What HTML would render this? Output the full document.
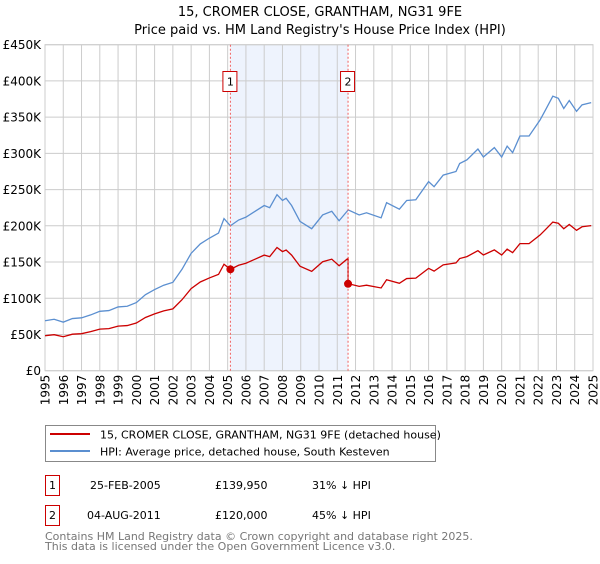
<!DOCTYPE html>
<html><head><meta charset="utf-8"><style>
body{margin:0;background:#fff;font-family:"DejaVu Sans","Liberation Sans",sans-serif;}
svg text{font-family:"DejaVu Sans","Liberation Sans",sans-serif;}
</style></head><body>
<svg id="chart" width="600" height="560" xmlns="http://www.w3.org/2000/svg">
<text x="320" y="16" text-anchor="middle" font-size="13" fill="#000">15, CROMER CLOSE, GRANTHAM, NG31 9FE</text>
<text x="320" y="34" text-anchor="middle" font-size="13" fill="#000">Price paid vs. HM Land Registry's House Price Index (HPI)</text>
<g id="plot"></g>
<g>
<rect x="45.5" y="425.5" width="390" height="36" fill="#fff" stroke="#888"/>
<line x1="50" y1="434" x2="90" y2="434" stroke="#cc0000" stroke-width="2"/>
<text x="100" y="438.5" font-size="11">15, CROMER CLOSE, GRANTHAM, NG31 9FE (detached house)</text>
<line x1="50" y1="451" x2="90" y2="451" stroke="#5b8fd0" stroke-width="2"/>
<text x="100" y="455.5" font-size="11">HPI: Average price, detached house, South Kesteven</text>
</g>
<g font-size="11">
<rect x="45.5" y="475.5" width="14" height="20" fill="#fff" stroke="#cc0000"/>
<text x="52.5" y="489" text-anchor="middle">1</text>
<text x="90" y="489">25-FEB-2005</text><text x="215" y="489">£139,950</text><text x="312" y="489">31% ↓ HPI</text>
<rect x="45.5" y="505.5" width="14" height="20" fill="#fff" stroke="#cc0000"/>
<text x="52.5" y="519" text-anchor="middle">2</text>
<text x="87" y="519">04-AUG-2011</text><text x="215" y="519">£120,000</text><text x="312" y="519">45% ↓ HPI</text>
</g>
<text x="45" y="540" font-size="11" fill="#777">Contains HM Land Registry data © Crown copyright and database right 2025.</text>
<text x="45" y="550" font-size="11" fill="#777">This data is licensed under the Open Government Licence v3.0.</text>
</svg>
<script>
const hpiYears=[1995,1995.5,1996,1996.5,1997,1997.5,1998,1998.5,1999,1999.5,2000,2000.5,2001,2001.5,2002,2002.5,2003,2003.5,2004,2004.5,2004.8,2005.15,2005.6,2006,2006.5,2007,2007.3,2007.7,2008,2008.2,2008.5,2008.96,2009.6,2010.2,2010.7,2011.1,2011.6,2012.2,2012.6,2013.4,2013.7,2014.4,2014.8,2015.3,2016,2016.3,2016.8,2017.5,2017.7,2018.1,2018.7,2019,2019.6,2020,2020.3,2020.6,2021,2021.5,2022.1,2022.4,2022.8,2023.1,2023.4,2023.7,2024.1,2024.4,2024.9];
const hpiValues=[69,71,67,72,73,77,82,83,88,89,94,105,112,118,122,140,162,175,183,190,210,200,208,212,220,228,225,243,235,238,228,206,196,215,220,207,222,215,218,211,232,223,235,236,261,254,270,275,286,291,306,295,308,295,310,301,324,324,346,360,379,376,362,373,358,367,370];
const saleDates=[2005.15,2011.59];
const salePrices=[139.95,120];
const yTicks=[0,50,100,150,200,250,300,350,400,450];
const xTicks=[1995,1996,1997,1998,1999,2000,2001,2002,2003,2004,2005,2006,2007,2008,2009,2010,2011,2012,2013,2014,2015,2016,2017,2018,2019,2020,2021,2022,2023,2024,2025];
const L=45,R=593,T=44.7,B=370.7;
const x=y=>L+(y-1995)*(R-L)/30;
const yv=v=>B-v*(B-T)/450;
const NS="http://www.w3.org/2000/svg";
const plot=document.getElementById('plot');
function mk(tag,attrs){const e=document.createElementNS(NS,tag);for(const k in attrs)e.setAttribute(k,attrs[k]);plot.appendChild(e);return e;}
function hpiAt(t){for(let i=0;i<hpiYears.length-1;i++){if(t<=hpiYears[i+1]){const f=(t-hpiYears[i])/(hpiYears[i+1]-hpiYears[i]);return hpiValues[i]+f*(hpiValues[i+1]-hpiValues[i]);}}return hpiValues[hpiValues.length-1];}
let sh=mk('rect',{x:x(saleDates[0]),y:T,width:x(saleDates[1])-x(saleDates[0]),height:B-T,fill:'#eef3fd'});


yTicks.forEach(v=>{let g=mk('line',{x1:L,x2:R,y1:yv(v),y2:yv(v),stroke:'#ccc'});


let t=mk('text',{x:L-4,y:yv(v)+4.5,'text-anchor':'end','font-size':'12'});t.textContent=v===0?'£0':'£'+v+'K';

});
xTicks.forEach(yr=>{let g=mk('line',{x1:x(yr),x2:x(yr),y1:T,y2:B,stroke:'#ccc'});


let t=mk('text',{x:0,y:0,'text-anchor':'end','font-size':'12',transform:`translate(${x(yr)+4.5},${B+4}) rotate(-90)`});t.textContent=yr;

});
let fr=mk('rect',{x:L,y:T,width:R-L,height:B-T,fill:'none',stroke:'#ccc'});


let hp=mk('polyline',{points:hpiYears.map((t,i)=>x(t)+','+yv(hpiValues[i])).join(' '),fill:'none',stroke:'#5b8fd0','stroke-width':1.3});


const r1=salePrices[0]/hpiAt(saleDates[0]),r2=salePrices[1]/hpiAt(saleDates[1]);
let pts=[];
hpiYears.forEach((t,i)=>{if(t<saleDates[1])pts.push([t,hpiValues[i]*r1]);});
pts.push([saleDates[1],hpiAt(saleDates[1])*r1]);pts.push([saleDates[1],salePrices[1]]);
hpiYears.forEach((t,i)=>{if(t>saleDates[1])pts.push([t,hpiValues[i]*r2]);});
let pl=mk('polyline',{points:pts.map(p=>x(p[0])+','+yv(p[1])).join(' '),fill:'none',stroke:'#cc0000','stroke-width':1.3});


saleDates.forEach((d,i)=>{
let v=mk('line',{x1:x(d),x2:x(d),y1:T,y2:B,stroke:'#f06060','stroke-dasharray':'2,2'});


let b=mk('rect',{x:x(d)-7.5,y:71.5,width:14,height:20,fill:'#fff',stroke:'#cc0000'});


let t=mk('text',{x:x(d),y:85.5,'text-anchor':'middle','font-size':'11'});t.textContent=String(i+1);


let c=mk('circle',{cx:x(d),cy:yv(salePrices[i]),r:4,fill:'#cc0000'});


});
</script>
</body></html>
